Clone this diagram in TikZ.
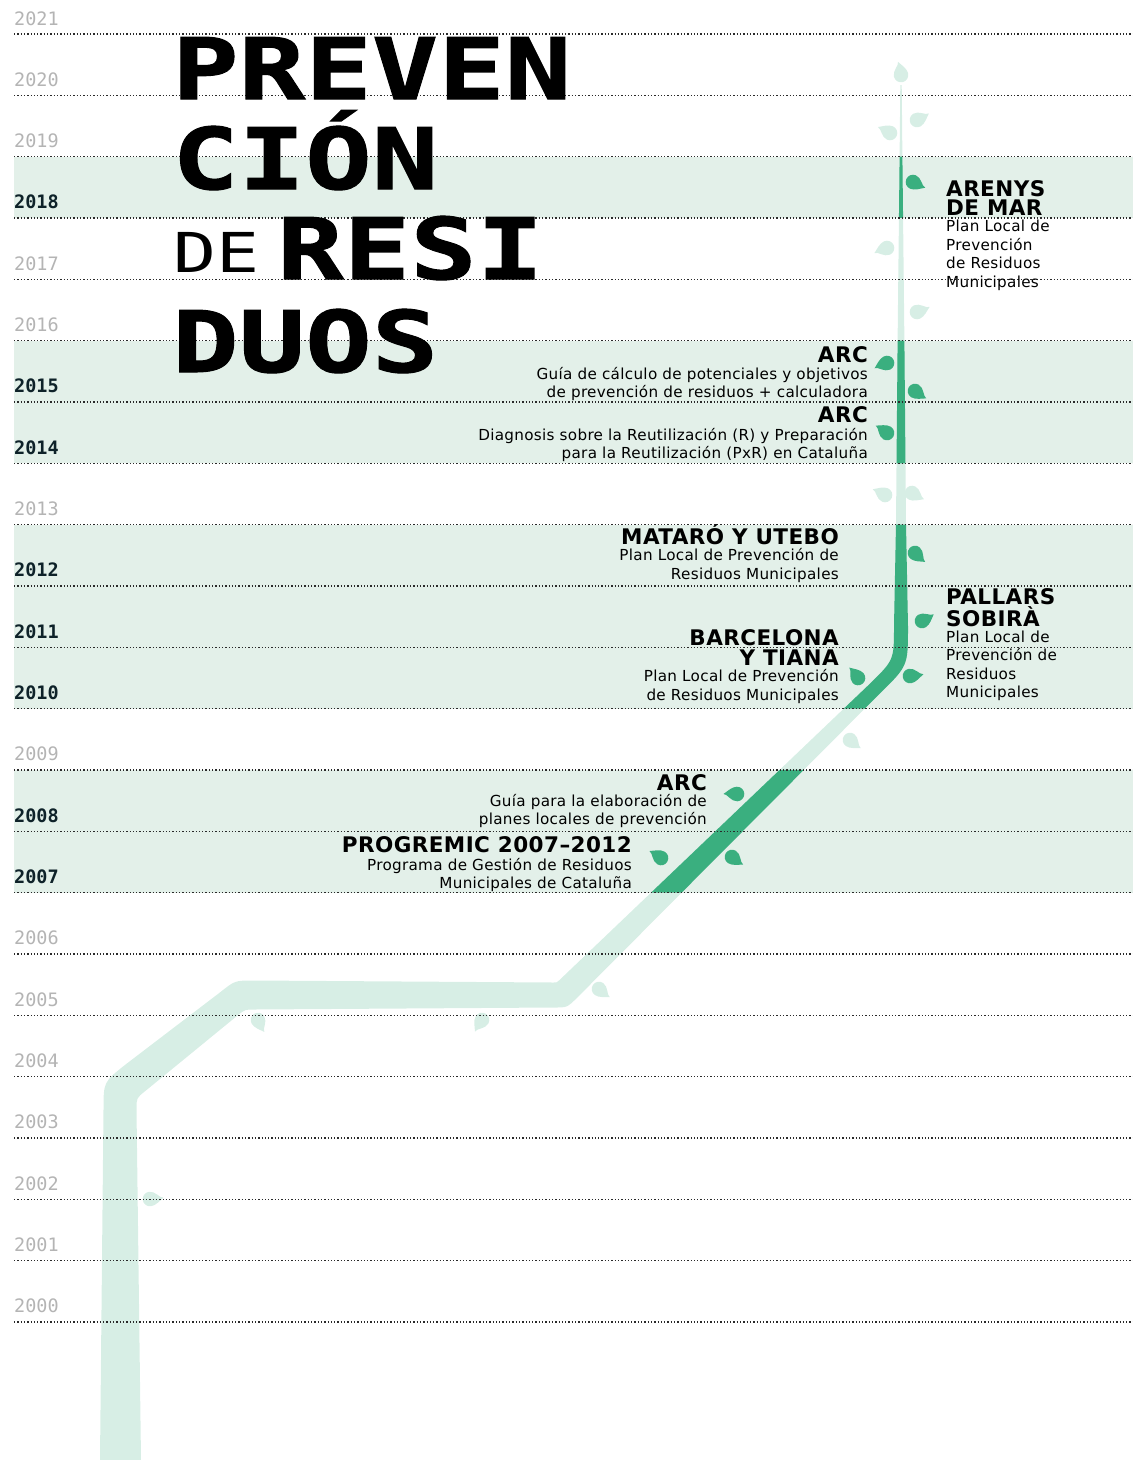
\documentclass[tikz,border=0pt]{standalone}
\usepackage{fontspec}
\setmainfont{DejaVu Sans}[LetterSpace=2]
\newfontfamily\yearfont{DejaVu Sans Mono}
\newfontfamily\titlefont{DejaVu Sans Mono}[FakeStretch=1.3, BoldFeatures={FakeBold=1.2}]

\definecolor{bandgreen}{HTML}{E3F0E9}
\definecolor{stemlight}{HTML}{D7EEE5}
\definecolor{stemdark}{HTML}{3AAF7F}
\definecolor{yeargray}{HTML}{B4B4B4}
\definecolor{yearink}{HTML}{0E2229}
\definecolor{dotgray}{HTML}{2A2A2A}

\newcommand{\evhead}[1]{{\bfseries\fontsize{21.5}{21.5}\selectfont #1}}

% outline of the stem, bottom left going up, back down on the right
\newcommand{\stemoutline}{
  (100,1460) -- (103.5,1109.8) .. controls (103.5,1082) .. (125.3,1064.7)
  -- (220.4,992.1) .. controls (234.95,980.5) .. (253.5,980.5)
  -- (553.6,982.5) .. controls (556.9,982.5) .. (559.3,980.2)
  -- (869.8,683.8) .. controls (894,660.1) .. (894,626.2)
  -- (896,524) -- (897.6,341) -- (899.6,157) -- (900.3,85)
  -- (901.7,85) -- (902.4,157) -- (904.4,341) -- (906,524) -- (908,626.3)
  .. controls (908,665.9) .. (879.7,693.6)
  -- (576.4,998.4) .. controls (567.1,1007.5) .. (554.1,1007.5)
  -- (254.05,1009.5) .. controls (245.05,1009.5) .. (238,1015.1)
  -- (145.3,1091) .. controls (136.5,1098) .. (136.5,1109.2)
  -- (141,1460) -- cycle}

\begin{document}
\begin{tikzpicture}[
  x=1pt, y=-1pt,
  every node/.style={inner sep=0pt},
  band/.style={fill=bandgreen},
  yearline/.style={draw=dotgray, line width=1.3pt, dash pattern=on 1.3pt off 2pt},
  yearoff/.style={anchor=base west, text=yeargray, font=\yearfont\fontsize{18.5}{18.5}\selectfont},
  yearon/.style={yearoff, text=yearink, font=\yearfont\bfseries\fontsize{18.5}{18.5}\selectfont},
  titletext/.style={anchor=base west, font=\titlefont\bfseries\fontsize{85}{85}\selectfont},
  event/.style={font=\fontsize{15.2}{18.5}\selectfont},
  eventl/.style={event, align=right, anchor=base east},
  eventr/.style={event, align=left, anchor=base west},
  pics/leaf/.style={code={
    \fill[fill=#1] (13.5pt,-0.5pt) .. controls (9.5pt,-0.5pt) and (6.5pt,7.3pt) .. (0pt,7.3pt)
      arc[start angle=90, end angle=270, radius=7.3pt]
      .. controls (5pt,-7.3pt) and (9.5pt,-3pt) .. cycle;}}]

  \useasboundingbox (0,0) rectangle (1133,1460);

  % highlighted years
  \foreach \i in {3,6,7,9,10,11,13,14}
    \fill[band] (14,{34+61.33*(\i-1)}) rectangle (1133,{34+61.33*\i});

  % stem, dark where the year is highlighted
  \fill[stemlight] \stemoutline;
  \begin{scope}
    \clip \foreach \i in {3,6,7,9,10,11,13,14} {
      (14,{34+61.33*(\i-1)}) rectangle (1133,{34+61.33*\i}) };
    \fill[stemdark] \stemoutline;
  \end{scope}

  % leaves: x / y / angle / colour
  \foreach \lx/\ly/\la/\lc in {
      901/75/105/stemlight, 917/120/31/stemlight, 890/133/156/stemlight,
      913/182/-23/stemdark, 887/248/204/stemlight, 917/312/24/stemlight,
      887/363/205/stemdark, 915/391/-31/stemdark, 887/433/149/stemdark,
      885/495/157/stemlight, 912/493/-25/stemlight,
      915/553/-39/stemdark, 922/621/32/stemdark,
      858/678/132/stemdark, 910/676/10/stemdark,
      850/740/-35/stemlight, 737/794/182/stemdark,
      661/858/151/stemdark, 732/857/-32/stemdark,
      599/989/-35/stemlight, 258/1020/-60/stemlight,
      482/1020/241/stemlight, 150/1199/8/stemlight}
    \pic[rotate=\la] at (\lx,\ly) {leaf=\lc};

  % year grid
  \foreach \yr/\ys [count=\i from 0] in {
      2021/yearoff, 2020/yearoff, 2019/yearoff, 2018/yearon, 2017/yearoff,
      2016/yearoff, 2015/yearon, 2014/yearon, 2013/yearoff, 2012/yearon,
      2011/yearon, 2010/yearon, 2009/yearoff, 2008/yearon, 2007/yearon,
      2006/yearoff, 2005/yearoff, 2004/yearoff, 2003/yearoff, 2002/yearoff,
      2001/yearoff, 2000/yearoff} {
    \pgfmathsetmacro{\ly}{34+61.33*\i}
    \draw[yearline] (14,\ly) -- (1133,\ly);
    \node[\ys] (y\yr) at (14,\ly-9) {\yr};
  }

  % title
  \node[titletext] (t1) at (172,99) {PREVEN};
  \node[titletext] (t2) at (172,189) {CIÓN};
  \node[titletext, font=\titlefont\fontsize{55}{55}\selectfont] (t3a) at (173,272) {DE};
  \node[titletext] (t3b) at (277,279) {RESI};
  \node[titletext] (t4) at (172,372) {DUOS};

  % events, placed by the baseline of their last line
  \node[eventr] (arenys) at (946,287) {\evhead{ARENYS}\\[0.8pt]\evhead{DE MAR}\\[-2.5pt]Plan Local de\\Prevención\\de Residuos\\Municipales};
  \node[eventl] (arc15) at (868,397.5) {\evhead{ARC}\\[-2.2pt]Guía de cálculo de potenciales y objetivos\\de prevención de residuos + calculadora};
  \node[eventl] (arc14) at (868,458.5) {\evhead{ARC}\\[-1.2pt]Diagnosis sobre la Reutilización (R) y Preparación\\para la Reutilización (PxR) en Cataluña};
  \node[eventl] (mataro) at (839,579) {\evhead{MATARÓ Y UTEBO}\\[-2.5pt]Plan Local de Prevención de\\Residuos Municipales};
  \node[eventr] (pallars) at (946,697.5) {\evhead{PALLARS}\\[0.5pt]\evhead{SOBIRÀ}\\[-2.5pt]Plan Local de\\Prevención de\\Residuos\\Municipales};
  \node[eventl] (barcelona) at (839,700) {\evhead{BARCELONA}\\[1.5pt]\evhead{Y TIANA}\\[-2pt]Plan Local de Prevención\\de Residuos Municipales};
  \node[eventl] (arc08) at (707,824.5) {\evhead{ARC}\\[-2.5pt]Guía para la elaboración de\\planes locales de prevención};
  \node[eventl] (progremic) at (632,888.5) {\evhead{PROGREMIC 2007–2012}\\[-1pt]Programa de Gestión de Residuos\\Municipales de Cataluña};

\end{tikzpicture}
\end{document}
